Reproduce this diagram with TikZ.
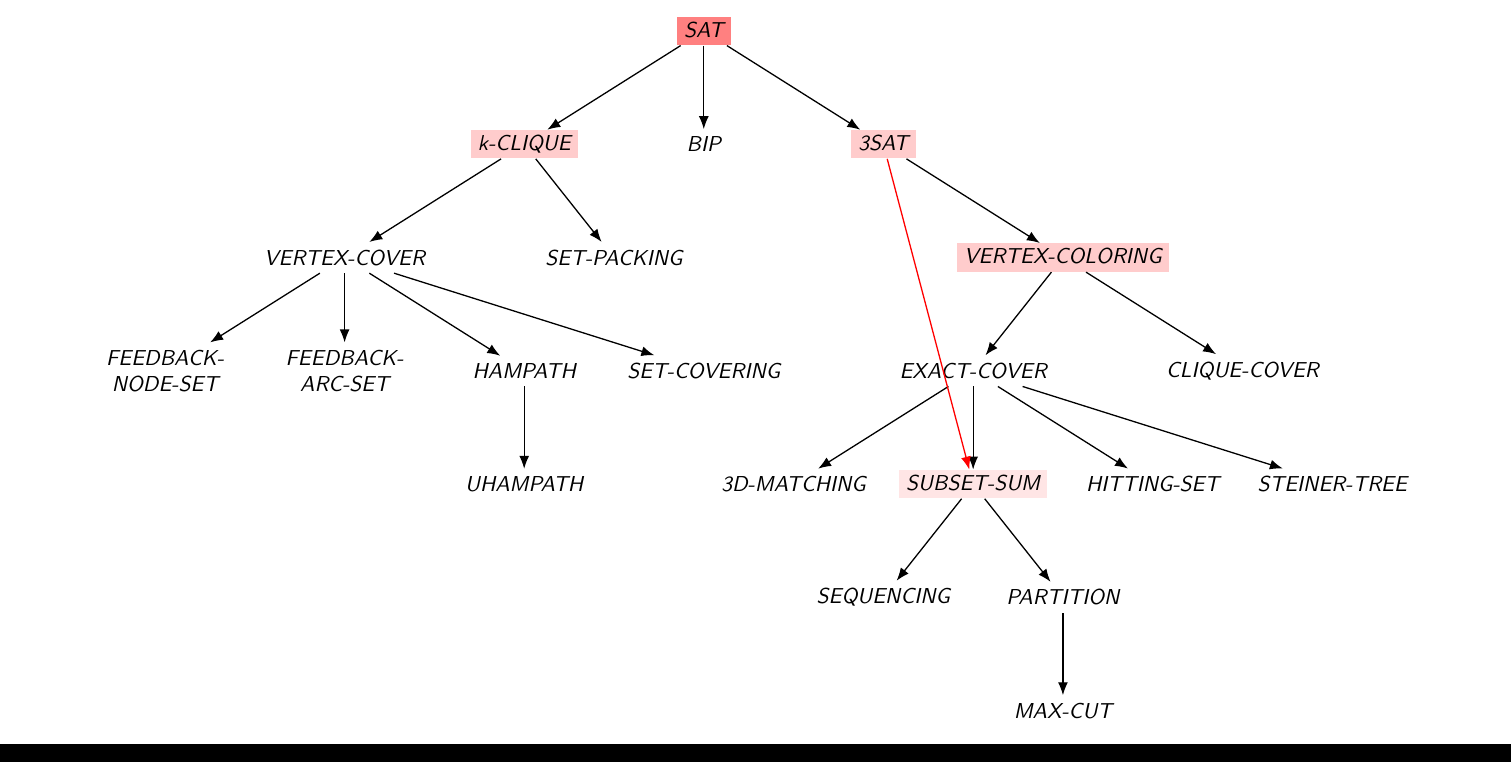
\documentclass[tikz,border=0pt]{standalone}
\usepackage{xcolor}
\usetikzlibrary{arrows.meta,positioning}
\begin{document}
\begin{tikzpicture}[x = 41.57pt, y = -52.45pt, >={Latex[length=6pt,width=4.6pt]},
  prob/.style = {font = \sffamily\itshape},
  hard/.style = {prob, fill = #1, text height = 6.9pt, text depth = 1pt, inner ysep = 2.6pt}]
\useasboundingbox (-1.838,-0.2736) rectangle (14.99,6.452);
\fill[black] (-1.838,6.294) rectangle (14.99,6.452);
\node[hard = red!50] (sat) at (6,0) {SAT};
\node[hard = red!20] (kclique) at (4,1) {k-CLIQUE};
\node[prob] (bip) at (6,1) {BIP};
\node[hard = red!20] (tsat) at (8,1) {3SAT};
\node[prob] (vc) at (2,2) {VERTEX-COVER};
\node[prob] (setpack) at (5,2) {SET-PACKING};
\node[hard = red!20] (vcol) at (10,2) {VERTEX-COLORING};
\node[prob, align = center] (fns) at (0,3) {FEEDBACK-\\NODE-SET};
\node[prob, align = center] (fas) at (2,3) {FEEDBACK-\\ARC-SET};
\node[prob] (ham) at (4,3) {HAMPATH};
\node[prob] (setcov) at (6,3) {SET-COVERING};
\node[prob] (exact) at (9,3) {EXACT-COVER};
\node[prob] (cliquecov) at (12,3) {CLIQUE-COVER};
\node[prob] (uham) at (4,4) {UHAMPATH};
\node[prob] (tdm) at (7,4) {3D-MATCHING};
\node[hard = red!10] (subsum) at (9,4) {SUBSET-SUM};
\node[prob] (hit) at (11,4) {HITTING-SET};
\node[prob] (steiner) at (13,4) {STEINER-TREE};
\node[prob] (seq) at (8,5) {SEQUENCING};
\node[prob] (part) at (10,5) {PARTITION};
\node[prob] (maxcut) at (10,6) {MAX-CUT};
% reductions
\draw[->, semithick] (sat) -- (kclique);
\draw[->, semithick] (sat) -- (bip);
\draw[->, semithick] (sat) -- (tsat);
\draw[->, semithick] (kclique) -- (vc);
\draw[->, semithick] (kclique) -- (setpack);
\draw[->, semithick] (tsat) -- (vcol);
\draw[->, semithick] (vc) -- (fns);
\draw[->, semithick] (vc) -- (fas);
\draw[->, semithick] (vc) -- (ham);
\draw[->, semithick] (vc) -- (setcov);
\draw[->, semithick] (ham) -- (uham);
\draw[->, semithick] (vcol) -- (exact);
\draw[->, semithick] (vcol) -- (cliquecov);
\draw[->, semithick] (exact) -- (tdm);
\draw[->, semithick] (exact) -- (subsum);
\draw[->, semithick] (exact) -- (hit);
\draw[->, semithick] (exact) -- (steiner);
\draw[->, semithick] (subsum) -- (seq);
\draw[->, semithick] (subsum) -- (part);
\draw[->, semithick] (part) -- (maxcut);
\draw[->, semithick, red] (tsat) -- (subsum);
\end{tikzpicture}
\end{document}
